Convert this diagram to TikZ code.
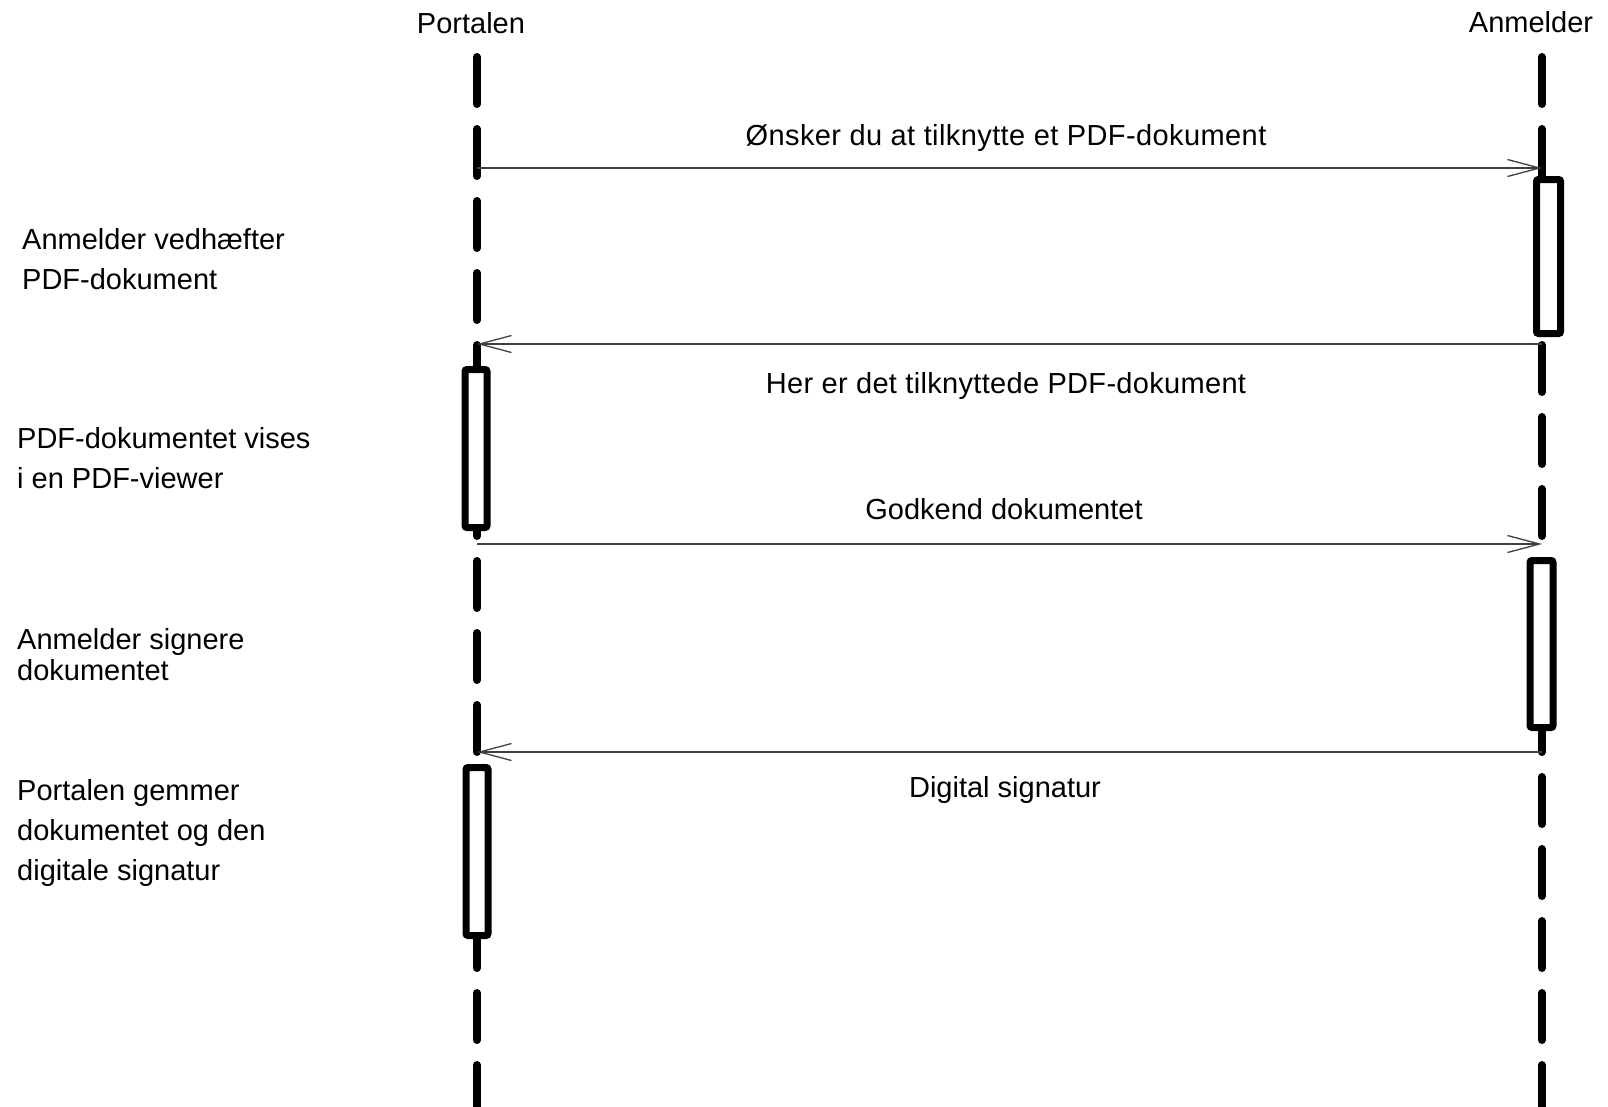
\documentclass[tikz,border=0pt]{standalone}
\usepackage{fontspec}
\setmainfont{Liberation Sans}
\usetikzlibrary{arrows.meta}
\begin{document}
\begin{tikzpicture}[x=1bp,y=-1bp,
  lifeline/.style={line width=8bp, line cap=round, dash pattern=on 47bp off 25bp},
  actbox/.style={draw, line width=7bp, fill=white, rounded corners=2bp, inner sep=0pt},
  msg/.style={draw=black!75, line width=1.3bp, -{Straight Barb[length=32bp,width=17bp,line width=1.3bp]}},
  lbl/.style={font=\fontsize{29bp}{40bp}\selectfont, inner sep=0pt, anchor=base},
  note/.style={font=\fontsize{29bp}{40bp}\selectfont, inner sep=0pt, align=left, anchor=base west}]
\useasboundingbox (0,0) rectangle (1608,1106);
% titles
\node[lbl] (tP) at (471,33) {Portalen};
\node[lbl] (tA) at (1531,32) {Anmelder};
% lifelines
\coordinate (pTop) at (477,57);
\coordinate (pBot) at (477,1130);
\coordinate (aTop) at (1542,57);
\coordinate (aBot) at (1542,1130);
\draw[lifeline] (pTop) -- (pBot);
\draw[lifeline] (aTop) -- (aBot);
% activation boxes
\node[actbox, minimum width=24bp, minimum height=154bp] (bA1) at (1548.5,256.5) {};
\node[actbox, minimum width=23bp, minimum height=167bp] (bA2) at (1541.5,644) {};
\node[actbox, minimum width=22bp, minimum height=158bp] (bP1) at (476,448.5) {};
\node[actbox, minimum width=22bp, minimum height=168bp] (bP2) at (477,851.5) {};
% message end points
\coordinate (m1s) at (477,168);  \coordinate (m1e) at (1542,168);
\coordinate (m2s) at (1542,344); \coordinate (m2e) at (477,344);
\coordinate (m3s) at (477,544);  \coordinate (m3e) at (1542,544);
\coordinate (m4s) at (1542,752); \coordinate (m4e) at (477,752);
\draw[msg] (m1s) -- (m1e);
\draw[msg] (m2s) -- (m2e);
\draw[msg] (m3s) -- (m3e);
\draw[msg] (m4s) -- (m4e);
% message labels
\node[lbl] (l1) at (1006,145) {\addfontfeature{LetterSpace=1.4}Ønsker du at tilknytte et PDF-dokument};
\node[lbl] (l2) at (1006,393) {\addfontfeature{LetterSpace=1.1}Her er det tilknyttede PDF-dokument};
\node[lbl] (l3) at (1004,519) {Godkend dokumentet};
\node[lbl] (l4) at (1005,797) {Digital signatur};
% side notes
\node[note] (n1) at (22,289) {Anmelder vedhæfter\\PDF-dokument};
\node[note] (n2) at (17,488) {PDF-dokumentet vises\\i en PDF-viewer};
\node[note] (n3) at (17,680) {Anmelder signere\\[-9bp]dokumentet};
\node[note] (n4) at (17,880) {Portalen gemmer\\dokumentet og den\\digitale signatur};
\end{tikzpicture}
\end{document}
